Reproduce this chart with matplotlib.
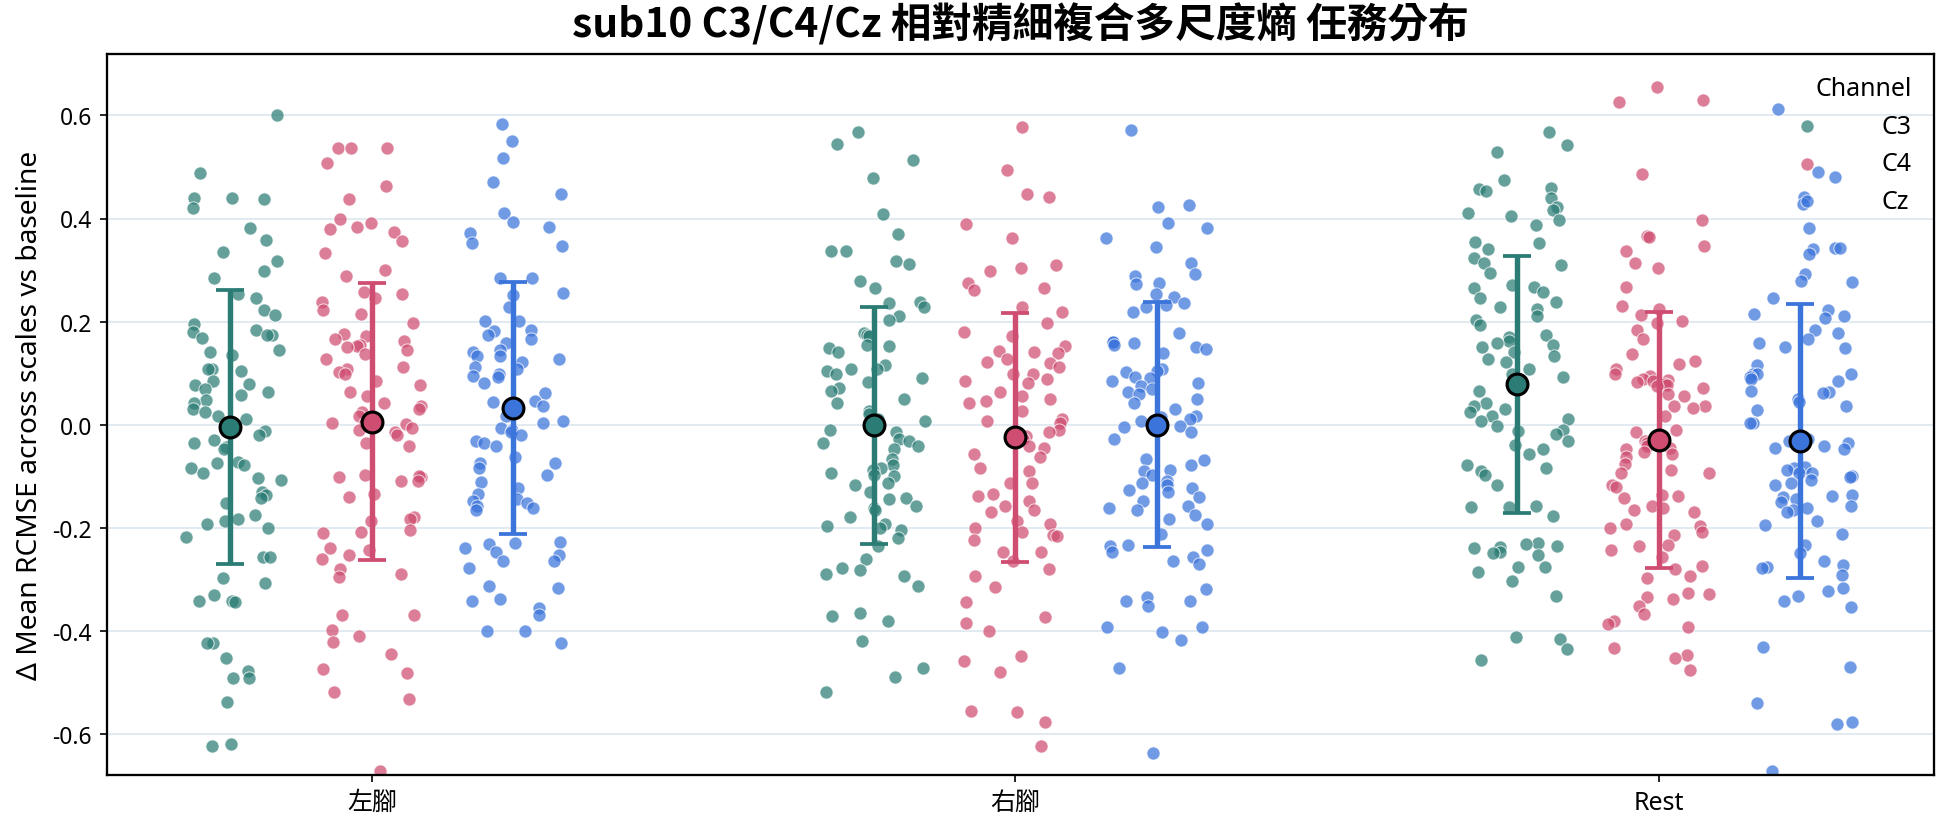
import matplotlib
matplotlib.use('Agg')
import matplotlib.pyplot as plt
import numpy as np

plt.rcParams['font.family'] = ['Noto Sans', 'Noto Sans CJK TC', 'DejaVu Sans']
plt.rcParams['axes.unicode_minus'] = False

tasks = ['左腳', '右腳', 'Rest']
channels = ['C3', 'C4', 'Cz']
colors = {'C3': '#2b7c75', 'C4': '#cf4d70', 'Cz': '#3b74db'}

# values, one list per task / channel
left_c3 = [0.60, 0.489, 0.437, 0.440, 0.440, 0.42, 0.382, 0.359, 0.335, 0.318, 0.298, 0.285,
           0.253, 0.245, 0.222, 0.212, 0.195, 0.184, 0.18, 0.173, 0.169, 0.174, 0.141, 0.145,
           0.135, 0.108, 0.107, 0.104, 0.085, 0.079, 0.076, 0.07, 0.063, 0.058, 0.048, 0.042,
           0.03, 0.024, 0.017, 0.01, -0.013, -0.021, -0.029, -0.035, -0.043, -0.048, -0.073,
           -0.075, -0.079, -0.084, -0.093, -0.103, -0.108, -0.131, -0.136, -0.143, -0.153,
           -0.175, -0.183, -0.188, -0.192, -0.201, -0.218, -0.257, -0.257, -0.298, -0.307,
           -0.331, -0.343, -0.345, -0.342, -0.424, -0.423, -0.453, -0.478, -0.492, -0.492,
           -0.538, -0.62, -0.624]
left_c4 = [0.536, 0.536, 0.536, 0.507, 0.463, 0.438, 0.40, 0.392, 0.383, 0.379, 0.373, 0.357,
           0.333, 0.301, 0.288, 0.258, 0.253, 0.245, 0.238, 0.223, 0.215, 0.197, 0.176, 0.172,
           0.167, 0.163, 0.154, 0.152, 0.15, 0.145, 0.137, 0.128, 0.111, 0.108, 0.102, 0.098,
           0.085, 0.076, 0.063, 0.055, 0.042, 0.037, 0.03, 0.024, 0.016, 0.004, 0.003, 0.001,
           -0.006, -0.01, -0.015, -0.021, -0.036, -0.041, -0.101, -0.10, -0.097, -0.101, -0.11,
           -0.11, -0.134, -0.14, -0.179, -0.183, -0.188, -0.205, -0.208, -0.211, -0.24, -0.244,
           -0.253, -0.261, -0.281, -0.29, -0.296, -0.369, -0.369, -0.398, -0.411, -0.421,
           -0.445, -0.475, -0.482, -0.518, -0.532, -0.672]
left_cz = [0.584, 0.55, 0.517, 0.47, 0.447, 0.411, 0.394, 0.383, 0.372, 0.352, 0.347, 0.285,
           0.284, 0.255, 0.252, 0.228, 0.202, 0.202, 0.182, 0.184, 0.173, 0.167, 0.158, 0.145,
           0.141, 0.134, 0.133, 0.128, 0.122, 0.111, 0.107, 0.098, 0.095, 0.093, 0.08, 0.062,
           0.046, 0.043, 0.037, 0.016, 0.007, 0.003, -0.006, -0.01, -0.015, -0.021, -0.032,
           -0.035, -0.041, -0.062, -0.074, -0.075, -0.084, -0.097, -0.112, -0.123, -0.134,
           -0.144, -0.149, -0.153, -0.157, -0.162, -0.166, -0.227, -0.229, -0.231, -0.24,
           -0.248, -0.253, -0.264, -0.265, -0.279, -0.313, -0.317, -0.339, -0.343, -0.356,
           -0.369, -0.40, -0.401, -0.424]
right_c3 = [0.567, 0.544, 0.513, 0.478, 0.409, 0.37, 0.336, 0.337, 0.318, 0.312, 0.279, 0.266,
            0.238, 0.236, 0.228, 0.21, 0.203, 0.177, 0.174, 0.172, 0.154, 0.152, 0.148, 0.141,
            0.115, 0.108, 0.107, 0.105, 0.098, 0.091, 0.082, 0.072, 0.065, 0.05, 0.042, 0.027,
            0.02, 0.011, 0.007, -0.006, -0.01, -0.015, -0.028, -0.032, -0.036, -0.041, -0.048,
            -0.067, -0.079, -0.084, -0.088, -0.093, -0.097, -0.10, -0.114, -0.117, -0.131,
            -0.143, -0.144, -0.157, -0.162, -0.166, -0.179, -0.192, -0.196, -0.201, -0.205,
            -0.221, -0.235, -0.261, -0.279, -0.283, -0.29, -0.293, -0.313, -0.365, -0.372,
            -0.381, -0.42, -0.473, -0.489, -0.518]
right_c4 = [0.577, 0.494, 0.442, 0.447, 0.389, 0.362, 0.31, 0.304, 0.298, 0.275, 0.266, 0.262,
            0.228, 0.219, 0.197, 0.18, 0.172, 0.152, 0.143, 0.141, 0.139, 0.128, 0.122, 0.12,
            0.111, 0.099, 0.098, 0.089, 0.085, 0.08, 0.063, 0.055, 0.05, 0.046, 0.042, 0.027,
            0.011, 0.007, 0.003, -0.01, -0.015, -0.023, -0.028, -0.041, -0.045, -0.058, -0.062,
            -0.084, -0.091, -0.114, -0.114, -0.134, -0.138, -0.149, -0.157, -0.166, -0.17,
            -0.188, -0.192, -0.201, -0.209, -0.214, -0.216, -0.224, -0.247, -0.248, -0.265,
            -0.281, -0.294, -0.316, -0.345, -0.374, -0.385, -0.40, -0.449, -0.458, -0.48,
            -0.558, -0.555, -0.577, -0.623]
right_cz = [0.572, 0.426, 0.422, 0.392, 0.381, 0.363, 0.344, 0.313, 0.292, 0.288, 0.275, 0.273,
            0.253, 0.247, 0.236, 0.232, 0.228, 0.219, 0.177, 0.161, 0.16, 0.158, 0.154, 0.15,
            0.147, 0.139, 0.107, 0.105, 0.102, 0.093, 0.091, 0.085, 0.08, 0.074, 0.07, 0.063,
            0.059, 0.05, 0.042, 0.03, 0.016, 0.014, 0.011, 0.007, -0.002, -0.004, -0.015,
            -0.028, -0.067, -0.068, -0.079, -0.088, -0.091, -0.098, -0.11, -0.114, -0.118,
            -0.123, -0.127, -0.131, -0.14, -0.149, -0.157, -0.162, -0.166, -0.175, -0.183,
            -0.192, -0.212, -0.233, -0.235, -0.244, -0.248, -0.257, -0.265, -0.27, -0.319,
            -0.335, -0.342, -0.343, -0.352, -0.393, -0.393, -0.402, -0.418, -0.473, -0.637]
rest_c3 = [0.567, 0.542, 0.53, 0.474, 0.46, 0.457, 0.454, 0.44, 0.422, 0.416, 0.411, 0.405,
           0.398, 0.388, 0.355, 0.353, 0.34, 0.323, 0.314, 0.31, 0.295, 0.271, 0.268, 0.265,
           0.258, 0.245, 0.238, 0.229, 0.225, 0.21, 0.203, 0.193, 0.173, 0.17, 0.163, 0.158,
           0.154, 0.15, 0.141, 0.134, 0.128, 0.122, 0.107, 0.098, 0.093, 0.065, 0.042, 0.036,
           0.03, 0.024, 0.016, 0.011, 0.007, -0.002, -0.01, -0.013, -0.019, -0.032, -0.039,
           -0.048, -0.058, -0.079, -0.084, -0.091, -0.097, -0.117, -0.157, -0.159, -0.16,
           -0.177, -0.229, -0.231, -0.235, -0.238, -0.24, -0.248, -0.25, -0.253, -0.277,
           -0.277, -0.287, -0.304, -0.333, -0.413, -0.417, -0.436, -0.456]
rest_c4 = [0.63, 0.626, 0.655, 0.487, 0.397, 0.366, 0.364, 0.347, 0.336, 0.314, 0.304, 0.268,
           0.225, 0.23, 0.212, 0.202, 0.197, 0.184, 0.167, 0.137, 0.124, 0.118, 0.108, 0.098,
           0.095, 0.089, 0.087, 0.085, 0.082, 0.079, 0.076, 0.074, 0.072, 0.059, 0.055, 0.037,
           0.036, 0.033, 0.016, -0.01, -0.015, -0.032, -0.034, -0.036, -0.041, -0.045, -0.048,
           -0.054, -0.058, -0.062, -0.077, -0.088, -0.093, -0.094, -0.117, -0.121, -0.136,
           -0.138, -0.143, -0.157, -0.162, -0.166, -0.17, -0.192, -0.196, -0.201, -0.209,
           -0.214, -0.233, -0.235, -0.244, -0.257, -0.274, -0.281, -0.294, -0.298, -0.326,
           -0.328, -0.335, -0.339, -0.352, -0.368, -0.382, -0.387, -0.393, -0.434, -0.447,
           -0.452, -0.477]
rest_cz = [0.613, 0.48, 0.491, 0.442, 0.428, 0.382, 0.343, 0.343, 0.34, 0.331, 0.292, 0.278,
           0.276, 0.245, 0.222, 0.215, 0.21, 0.206, 0.184, 0.177, 0.167, 0.158, 0.15, 0.148,
           0.115, 0.099, 0.098, 0.098, 0.093, 0.089, 0.085, 0.065, 0.063, 0.061, 0.05, 0.044,
           0.036, 0.029, 0.004, 0.003, -0.028, -0.032, -0.035, -0.041, -0.045, -0.048, -0.082,
           -0.084, -0.088, -0.093, -0.094, -0.10, -0.101, -0.108, -0.114, -0.118, -0.136,
           -0.138, -0.14, -0.144, -0.151, -0.157, -0.162, -0.166, -0.17, -0.188, -0.195,
           -0.212, -0.233, -0.25, -0.265, -0.272, -0.277, -0.279, -0.292, -0.317, -0.322,
           -0.333, -0.342, -0.354, -0.432, -0.471, -0.541, -0.577, -0.581, -0.672]

# mean and SD per group as shown by the error bars (order: C3, C4, Cz)
mean_left = [-0.004, 0.006, 0.032]
sd_left = [0.266, 0.269, 0.245]
mean_right = [-0.001, -0.025, 0.0]
sd_right = [0.230, 0.241, 0.238]
mean_rest = [0.078, -0.030, -0.032]
sd_rest = [0.249, 0.248, 0.266]

data = {
    '左腳': [left_c3, left_c4, left_cz],
    '右腳': [right_c3, right_c4, right_cz],
    'Rest': [rest_c3, rest_c4, rest_cz],
}
means = {'左腳': mean_left, '右腳': mean_right, 'Rest': mean_rest}
sds = {'左腳': sd_left, '右腳': sd_right, 'Rest': sd_rest}

offsets = [-0.22, 0.0, 0.22]
rng = np.random.default_rng(10)

fig = plt.figure(figsize=(12.96, 5.513), dpi=150)
ax = fig.add_axes([0.0548, 0.0617, 0.9401, 0.8723])

legend_handles = []
for i, task in enumerate(tasks):
    for j, ch in enumerate(channels):
        vals = np.array(data[task][j])
        xc = i + offsets[j]
        jit = rng.uniform(-0.08, 0.08, len(vals))
        sc = ax.scatter(xc + jit, vals, s=40, color=colors[ch], alpha=0.72,
                        edgecolors='white', linewidths=0.5, zorder=2)
        if i == 0:
            legend_handles.append(sc)
        ax.errorbar(xc, means[task][j], yerr=sds[task][j], color=colors[ch],
                    elinewidth=2.6, capsize=6.5, capthick=1.8, zorder=3)
        ax.plot(xc, means[task][j], 'o', ms=10, mfc=colors[ch], mec='black',
                mew=1.5, zorder=4)

ax.set_xticks(range(len(tasks)))
ax.set_xticklabels(tasks)
ax.set_xlim(-0.4125, 2.428)
ax.set_ylim(-0.68, 0.72)
ax.set_yticks([-0.6, -0.4, -0.2, 0.0, 0.2, 0.4, 0.6])
ax.yaxis.grid(True, color='#dbe5ef', linewidth=0.8, zorder=0)
ax.set_axisbelow(True)
ax.tick_params(axis='y', labelsize=11)
ax.tick_params(axis='x', labelsize=12)
for sp in ax.spines.values():
    sp.set_linewidth(1.1)

ax.set_ylabel('Δ Mean RCMSE across scales vs baseline', fontsize=13.5)
ax.set_title('sub10 C3/C4/Cz 相對精細複合多尺度熵 任務分布', fontsize=19.5,
             fontweight='bold', family=['Noto Sans CJK TC', 'DejaVu Sans'], pad=8)

leg = ax.legend(legend_handles, channels, title='Channel', loc='upper right',
                frameon=False, fontsize=12, title_fontsize=12, handletextpad=2.0,
                scatterpoints=1, alignment='right')
leg.set_zorder(10)

fig.savefig('out.png', dpi=150)
